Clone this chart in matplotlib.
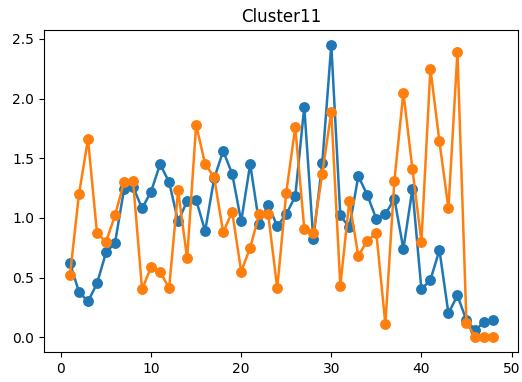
import numpy as np
import matplotlib
matplotlib.use("Agg")
import matplotlib.pyplot as plt

x = np.arange(1, 49)

blue = [0.62, 0.38, 0.30, 0.45, 0.71, 0.79, 1.24, 1.26, 1.08, 1.22,
        1.45, 1.30, 0.97, 1.14, 1.15, 0.89, 1.33, 1.56, 1.37, 0.97,
        1.45, 0.95, 1.11, 0.93, 1.03, 1.18, 1.93, 0.82, 1.46, 2.45,
        1.02, 0.92, 1.35, 1.19, 0.99, 1.03, 1.16, 0.74, 1.24, 0.40,
        0.48, 0.73, 0.20, 0.35, 0.14, 0.06, 0.13, 0.14]

orange = [0.52, 1.20, 1.66, 0.87, 0.80, 1.02, 1.30, 1.31, 0.40, 0.59,
          0.55, 0.41, 1.23, 0.66, 1.78, 1.45, 1.34, 0.88, 1.05, 0.55,
          0.75, 1.03, 1.03, 0.41, 1.21, 1.76, 0.91, 0.87, 1.37, 1.89,
          0.43, 1.14, 0.68, 0.81, 0.87, 0.11, 1.31, 2.05, 1.41, 0.80,
          2.25, 1.64, 1.08, 2.39, 0.12, 0.0, 0.0, 0.0]

fig = plt.figure(figsize=(5.22, 3.82), dpi=100)
ax = fig.add_axes([0.084, 0.079, 0.908, 0.842])

ax.plot(x, blue, 'o-', markersize=6.8, linewidth=1.8)
ax.plot(x, orange, 'o-', markersize=6.8, linewidth=1.8)
ax.set_title('Cluster11')
ax.set_xlim(-1.9, 50.7)

fig.savefig('out.png', dpi=100)
